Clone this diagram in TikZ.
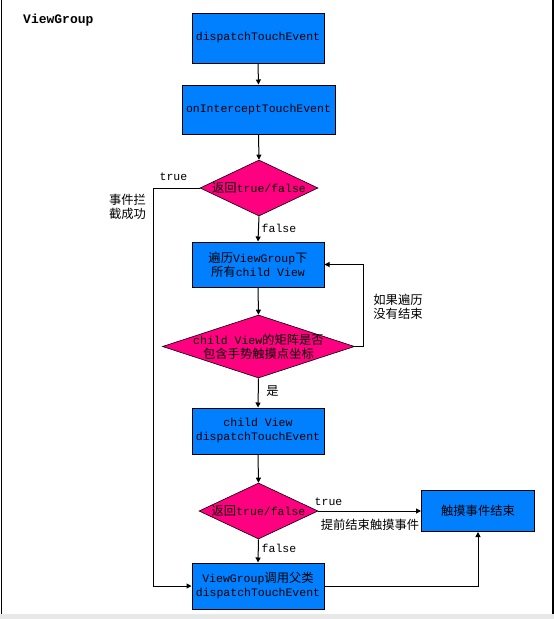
\documentclass[tikz,border=0pt]{standalone}
\usepackage{fontspec}
\setmainfont{Liberation Mono}
\newfontfamily\cjk[Scale=1.07]{Noto Sans CJK SC}
\usetikzlibrary{shapes.geometric,arrows.meta}
\definecolor{boxblue}{RGB}{0,128,255}
\definecolor{decmag}{RGB}{255,0,128}
\definecolor{bandgray}{RGB}{232,232,232}
\tikzset{
  procbox/.style={draw=black,line width=1pt,fill=boxblue,inner sep=0pt,align=center,
    font=\fontsize{11.5}{14}\selectfont},
  decbox/.style={draw=black,line width=0.6pt,fill=decmag,shape=diamond,inner sep=0pt},
  dectext/.style={inner sep=0pt,align=center,font=\fontsize{11.5}{14}\selectfont},
  lbl/.style={inner sep=0pt,align=center,font=\fontsize{11.5}{14}\selectfont},
  conn/.style={line width=1pt,-{Triangle[length=5pt,width=5pt]}},
  plainconn/.style={line width=1pt}
}
\begin{document}
\begin{tikzpicture}[x=1pt,y=-1pt]
\useasboundingbox (0,0) rectangle (554,619);
\fill[white] (0,0) rectangle (554,619);
\fill[bandgray] (0,614) rectangle (554,619);
\draw[line width=1.5pt] (1.5,0) -- (1.5,614);
\draw[line width=1.5pt] (553,0) -- (553,614);

\node[anchor=west,inner sep=0pt,font=\fontsize{13}{14}\selectfont\bfseries] (title) at (23,20) {ViewGroup};

\node[procbox,minimum width=132,minimum height=50] (b1) at (258,38) {dispatchTouchEvent};
\node[procbox,minimum width=153,minimum height=49] (b2) at (258.5,109.5) {onInterceptTouchEvent};
\node[decbox,minimum width=118,minimum height=56] (d1) at (259,188) {};
\node[dectext] (d1t) at (d1.center) {{\cjk 返回}true/false};
\node[procbox,minimum width=132,minimum height=45] (b3) at (258,264.5) {{\cjk 遍历}ViewGroup{\cjk 下}\\{\cjk 所有}child View};
\node[decbox,minimum width=192,minimum height=63] (d2) at (258.5,346.5) {};
\node[dectext] (d2t) at (d2.center) {child View{\cjk 的矩阵是否}\\{\cjk 包含手势触摸点坐标}};
\node[procbox,minimum width=132,minimum height=46] (b4) at (258,431) {child View\\dispatchTouchEvent};
\node[decbox,minimum width=119,minimum height=56] (d3) at (258.5,511) {};
\node[dectext] (d3t) at (d3.center) {{\cjk 返回}true/false};
\node[procbox,minimum width=113,minimum height=41] (b5) at (478,511) {{\cjk 触摸事件结束}};
\node[procbox,minimum width=132,minimum height=46] (b6) at (258,586) {ViewGroup{\cjk 调用父类}\\dispatchTouchEvent};

\coordinate (leftrail) at (153,188);
\coordinate (looprail) at (363,346.5);

\draw[conn] (b1.south) -- (b2.north);
\draw[conn] (b2.south) -- (d1.north);
\draw[conn] (d1.south) -- (b3.north);
\draw[conn] (b3.south) -- (d2.north);
\draw[conn] (d2.east) -- (looprail) |- (b3.east);
\draw[conn] (d2.south) -- (b4.north);
\draw[conn] (b4.south) -- (d3.north);
\draw[conn] (d3.east) -- (d3.east -| b5.west);
\draw[conn] (d3.south) -- (b6.north);
\draw[conn] (d1.west) -- (leftrail) |- (b6.west);
\draw[conn] (b6.east) -| (b5.south);

\node[lbl] (ltrue1) at (173.5,177) {true};
\node[lbl] (lsucc) at (127.5,207) {{\cjk 事件拦}\\{\cjk 截成功}};
\node[lbl] (lfalse1) at (279,228) {false};
\node[lbl] (lloop) at (398,307) {{\cjk 如果遍历}\\{\cjk 没有结束}};
\node[lbl] (lyes) at (272.5,391) {{\cjk 是}};
\node[lbl] (ltrue2) at (328.5,502) {true};
\node[lbl] (lend) at (370,525) {{\cjk 提前结束触摸事件}};
\node[lbl] (lfalse2) at (279,548) {false};
\end{tikzpicture}
\end{document}
